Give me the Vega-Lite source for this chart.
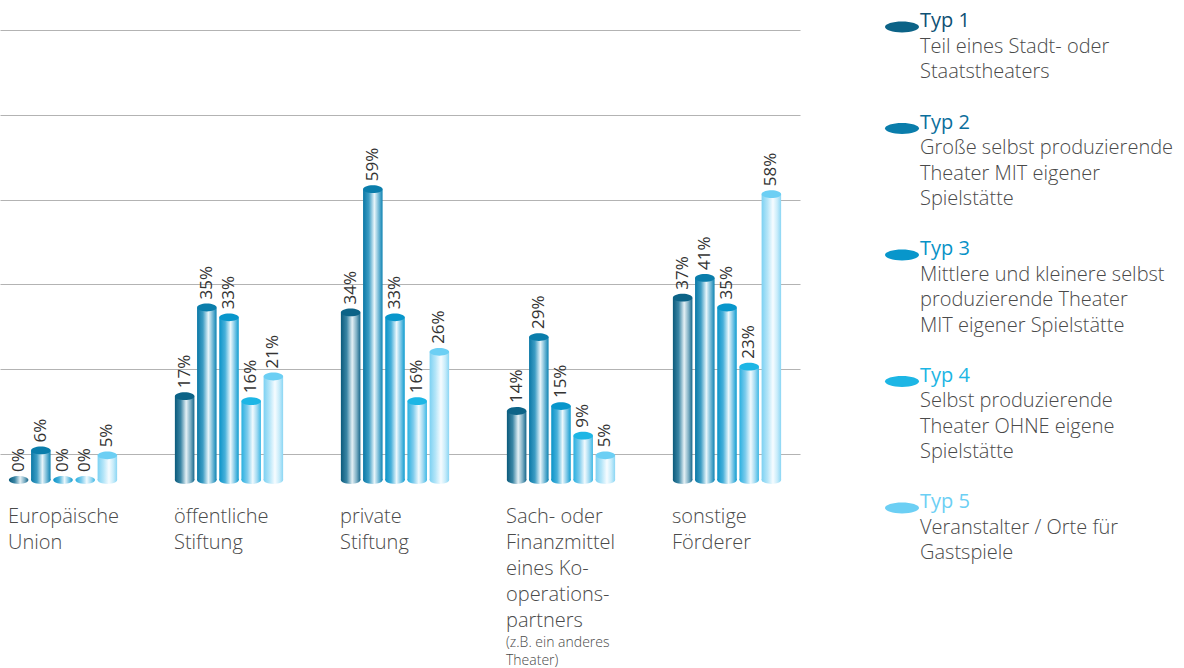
{
  "$schema": "https://vega.github.io/schema/vega-lite/v6.json",
  "width": 800,
  "height": 450,
  "autosize": {"type": "none"},
  "padding": {"left": 0, "top": 30, "right": 384, "bottom": 188},
  "background": "white",
  "config": {"view": {"stroke": null}, "font": "Open Sans", "style": {"guide-label": {"lineHeight": 25.6}}},
  "resolve": {"axis": {"x": "independent"}},
  "datasets": {
    "bars": [
      {"cat": "Europäische Union", "type": "Typ 1", "value": 0},
      {"cat": "Europäische Union", "type": "Typ 2", "value": 0.06},
      {"cat": "Europäische Union", "type": "Typ 3", "value": 0},
      {"cat": "Europäische Union", "type": "Typ 4", "value": 0},
      {"cat": "Europäische Union", "type": "Typ 5", "value": 0.05},
      {"cat": "öffentliche Stiftung", "type": "Typ 1", "value": 0.17},
      {"cat": "öffentliche Stiftung", "type": "Typ 2", "value": 0.35},
      {"cat": "öffentliche Stiftung", "type": "Typ 3", "value": 0.33},
      {"cat": "öffentliche Stiftung", "type": "Typ 4", "value": 0.16},
      {"cat": "öffentliche Stiftung", "type": "Typ 5", "value": 0.21},
      {"cat": "private Stiftung", "type": "Typ 1", "value": 0.34},
      {"cat": "private Stiftung", "type": "Typ 2", "value": 0.59},
      {"cat": "private Stiftung", "type": "Typ 3", "value": 0.33},
      {"cat": "private Stiftung", "type": "Typ 4", "value": 0.16},
      {"cat": "private Stiftung", "type": "Typ 5", "value": 0.26},
      {"cat": "Sach- oder Finanzmittel eines Kooperationspartners", "type": "Typ 1", "value": 0.14},
      {"cat": "Sach- oder Finanzmittel eines Kooperationspartners", "type": "Typ 2", "value": 0.29},
      {"cat": "Sach- oder Finanzmittel eines Kooperationspartners", "type": "Typ 3", "value": 0.15},
      {"cat": "Sach- oder Finanzmittel eines Kooperationspartners", "type": "Typ 4", "value": 0.09},
      {"cat": "Sach- oder Finanzmittel eines Kooperationspartners", "type": "Typ 5", "value": 0.05},
      {"cat": "sonstige Förderer", "type": "Typ 1", "value": 0.37},
      {"cat": "sonstige Förderer", "type": "Typ 2", "value": 0.41},
      {"cat": "sonstige Förderer", "type": "Typ 3", "value": 0.35},
      {"cat": "sonstige Förderer", "type": "Typ 4", "value": 0.23},
      {"cat": "sonstige Förderer", "type": "Typ 5", "value": 0.58}
    ]
  },
  "data": {"name": "bars"},
  "encoding": {
    "x": {
      "field": "cat",
      "type": "nominal",
      "scale": {
        "domain": ["Europäische Union", "öffentliche Stiftung", "private Stiftung", "Sach- oder Finanzmittel eines Kooperationspartners", "sonstige Förderer"],
        "paddingInner": 0.3373,
        "paddingOuter": 0.0783,
        "align": 0.3077
      },
      "axis": null
    },
    "y": {
      "field": "value",
      "type": "quantitative",
      "scale": {"domain": [0, 0.913], "nice": false, "zero": true},
      "axis": {
        "title": null,
        "values": [0.0527, 0.2252, 0.3977, 0.568, 0.7405, 0.913],
        "grid": true,
        "gridColor": "#b3b3b3",
        "gridWidth": 1.2,
        "labels": false,
        "ticks": false,
        "domain": false
      }
    }
  },
  "layer": [
    {
      "transform": [{"filter": "datum.type == 'Typ 1'"}],
      "mark": {"type": "point", "filled": true, "size": 381, "opacity": 1, "strokeWidth": 0,
        "fill": {"gradient": "linear", "x1": 0, "x2": 1, "y1": 0, "y2": 0, "stops": [
          {"offset": 0, "color": "#0b5a7b"}, {"offset": 0.3, "color": "#3b86a5"}, {"offset": 0.58, "color": "#e4f0f5"}, {"offset": 0.8, "color": "#7fb0c5"}, {"offset": 1, "color": "#16668a"}]}},
      "encoding": {
        "x": {
          "field": "cat",
          "type": "nominal",
          "scale": {
            "domain": ["Europäische Union", "öffentliche Stiftung", "private Stiftung", "Sach- oder Finanzmittel eines Kooperationspartners", "sonstige Förderer"],
            "paddingInner": 0.3373,
            "paddingOuter": 0.0783,
            "align": 0.3077
          },
          "axis": {
            "orient": "bottom",
            "title": null,
            "domain": false,
            "ticks": false,
            "grid": false,
            "labelAlign": "left",
            "labelBaseline": "top",
            "labelAngle": 0,
            "labelOffset": -55,
            "labelPadding": 26,
            "labelFont": "Open Sans",
            "labelFontWeight": 300,
            "labelFontSize": 20,
            "labelLineHeight": 26,
            "labelColor": "#4a4a4a",
            "labelLimit": 300,
            "labelOverlap": false,
            "labelBound": false,
            "labelFlush": false,
            "labelExpr": "datum.value == 'Europäische Union' ? ['Europäische', 'Union'] : datum.value == 'öffentliche Stiftung' ? ['öffentliche', 'Stiftung'] : datum.value == 'private Stiftung' ? ['private', 'Stiftung'] : datum.value == 'sonstige Förderer' ? ['sonstige', 'Förderer'] : ['Sach- oder', 'Finanzmittel', 'eines Ko-', 'operations-', 'partners']"
          }
        },
        "xOffset": {"field": "type", "type": "nominal", "scale": {"paddingInner": 0.12, "paddingOuter": 0.04}},
        "y": {"datum": 0, "type": "quantitative"},
        "shape": {
          "field": "type",
          "type": "nominal",
          "scale": {
            "domain": ["Typ 1", "Typ 2", "Typ 3", "Typ 4", "Typ 5"],
            "range": ["M-1,0A1,0.4,0,1,0,1,0A1,0.4,0,1,0,-1,0Z", "M-1,0A1,0.4,0,1,0,1,0A1,0.4,0,1,0,-1,0Z", "M-1,0A1,0.4,0,1,0,1,0A1,0.4,0,1,0,-1,0Z", "M-1,0A1,0.4,0,1,0,1,0A1,0.4,0,1,0,-1,0Z", "M-1,0A1,0.4,0,1,0,1,0A1,0.4,0,1,0,-1,0Z"]
          },
          "legend": {
            "orient": "none",
            "legendX": 885,
            "legendY": -20,
            "padding": 0,
            "title": null,
            "symbolSize": 1156,
            "symbolOpacity": 0,
            "symbolStrokeWidth": 0,
            "labelOffset": 1,
            "labelFont": "Open Sans",
            "labelFontWeight": 300,
            "labelFontSize": 20,
            "labelBaseline": "alphabetic",
            "labelLimit": 400,
            "labelColor": "#4a4a4a",
            "rowPadding": 28.5,
            "labelExpr": "datum.label == 'Typ 1' ? ['', 'Teil eines Stadt- oder', 'Staatstheaters'] : datum.label == 'Typ 2' ? ['', 'Große selbst produzierende', 'Theater MIT eigener', 'Spielstätte'] : datum.label == 'Typ 3' ? ['', 'Mittlere und kleinere selbst', 'produzierende Theater', 'MIT eigener Spielstätte'] : datum.label == 'Typ 4' ? ['', 'Selbst produzierende', 'Theater OHNE eigene', 'Spielstätte'] : ['', 'Veranstalter / Orte für', 'Gastspiele']"
          }
        }
      }
    },
    {
      "transform": [{"filter": "datum.type == 'Typ 2'"}],
      "mark": {"type": "point", "filled": true, "size": 381, "opacity": 1, "strokeWidth": 0, "shape": "M-1,0A1,0.4,0,1,0,1,0A1,0.4,0,1,0,-1,0Z",
        "fill": {"gradient": "linear", "x1": 0, "x2": 1, "y1": 0, "y2": 0, "stops": [
          {"offset": 0, "color": "#0a78a6"}, {"offset": 0.3, "color": "#3d9dc4"}, {"offset": 0.58, "color": "#e8f5fa"}, {"offset": 0.8, "color": "#73b9d6"}, {"offset": 1, "color": "#0e83b2"}]}},
      "encoding": {
        "xOffset": {"field": "type", "type": "nominal"},
        "y": {"datum": 0, "type": "quantitative"}
      }
    },
    {
      "transform": [{"filter": "datum.type == 'Typ 3'"}],
      "mark": {"type": "point", "filled": true, "size": 381, "opacity": 1, "strokeWidth": 0, "shape": "M-1,0A1,0.4,0,1,0,1,0A1,0.4,0,1,0,-1,0Z",
        "fill": {"gradient": "linear", "x1": 0, "x2": 1, "y1": 0, "y2": 0, "stops": [
          {"offset": 0, "color": "#0993c8"}, {"offset": 0.3, "color": "#47b0da"}, {"offset": 0.58, "color": "#ecf8fc"}, {"offset": 0.8, "color": "#7ac6e6"}, {"offset": 1, "color": "#0e9ccf"}]}},
      "encoding": {
        "xOffset": {"field": "type", "type": "nominal"},
        "y": {"datum": 0, "type": "quantitative"}
      }
    },
    {
      "transform": [{"filter": "datum.type == 'Typ 4'"}],
      "mark": {"type": "point", "filled": true, "size": 381, "opacity": 1, "strokeWidth": 0, "shape": "M-1,0A1,0.4,0,1,0,1,0A1,0.4,0,1,0,-1,0Z",
        "fill": {"gradient": "linear", "x1": 0, "x2": 1, "y1": 0, "y2": 0, "stops": [
          {"offset": 0, "color": "#29b0e0"}, {"offset": 0.3, "color": "#7ccbec"}, {"offset": 0.58, "color": "#f1fafe"}, {"offset": 0.8, "color": "#a0d9f1"}, {"offset": 1, "color": "#3cb8e5"}]}},
      "encoding": {
        "xOffset": {"field": "type", "type": "nominal"},
        "y": {"datum": 0, "type": "quantitative"}
      }
    },
    {
      "transform": [{"filter": "datum.type == 'Typ 5'"}],
      "mark": {"type": "point", "filled": true, "size": 381, "opacity": 1, "strokeWidth": 0, "shape": "M-1,0A1,0.4,0,1,0,1,0A1,0.4,0,1,0,-1,0Z",
        "fill": {"gradient": "linear", "x1": 0, "x2": 1, "y1": 0, "y2": 0, "stops": [
          {"offset": 0, "color": "#7cd1f2"}, {"offset": 0.3, "color": "#b4e5f8"}, {"offset": 0.58, "color": "#f6fcff"}, {"offset": 0.8, "color": "#c8ecfa"}, {"offset": 1, "color": "#8ad6f4"}]}},
      "encoding": {
        "xOffset": {"field": "type", "type": "nominal"},
        "y": {"datum": 0, "type": "quantitative"}
      }
    },
    {
      "transform": [{"filter": "datum.type == 'Typ 1'"}],
      "mark": {"type": "bar",
        "color": {"gradient": "linear", "x1": 0, "x2": 1, "y1": 0, "y2": 0, "stops": [
          {"offset": 0, "color": "#0b5a7b"}, {"offset": 0.3, "color": "#3b86a5"}, {"offset": 0.58, "color": "#e4f0f5"}, {"offset": 0.8, "color": "#7fb0c5"}, {"offset": 1, "color": "#16668a"}]}},
      "encoding": {"xOffset": {"field": "type", "type": "nominal"}}
    },
    {
      "transform": [{"filter": "datum.type == 'Typ 2'"}],
      "mark": {"type": "bar",
        "color": {"gradient": "linear", "x1": 0, "x2": 1, "y1": 0, "y2": 0, "stops": [
          {"offset": 0, "color": "#0a78a6"}, {"offset": 0.3, "color": "#3d9dc4"}, {"offset": 0.58, "color": "#e8f5fa"}, {"offset": 0.8, "color": "#73b9d6"}, {"offset": 1, "color": "#0e83b2"}]}},
      "encoding": {"xOffset": {"field": "type", "type": "nominal"}}
    },
    {
      "transform": [{"filter": "datum.type == 'Typ 3'"}],
      "mark": {"type": "bar",
        "color": {"gradient": "linear", "x1": 0, "x2": 1, "y1": 0, "y2": 0, "stops": [
          {"offset": 0, "color": "#0993c8"}, {"offset": 0.3, "color": "#47b0da"}, {"offset": 0.58, "color": "#ecf8fc"}, {"offset": 0.8, "color": "#7ac6e6"}, {"offset": 1, "color": "#0e9ccf"}]}},
      "encoding": {"xOffset": {"field": "type", "type": "nominal"}}
    },
    {
      "transform": [{"filter": "datum.type == 'Typ 4'"}],
      "mark": {"type": "bar",
        "color": {"gradient": "linear", "x1": 0, "x2": 1, "y1": 0, "y2": 0, "stops": [
          {"offset": 0, "color": "#29b0e0"}, {"offset": 0.3, "color": "#7ccbec"}, {"offset": 0.58, "color": "#f1fafe"}, {"offset": 0.8, "color": "#a0d9f1"}, {"offset": 1, "color": "#3cb8e5"}]}},
      "encoding": {"xOffset": {"field": "type", "type": "nominal"}}
    },
    {
      "transform": [{"filter": "datum.type == 'Typ 5'"}],
      "mark": {"type": "bar",
        "color": {"gradient": "linear", "x1": 0, "x2": 1, "y1": 0, "y2": 0, "stops": [
          {"offset": 0, "color": "#7cd1f2"}, {"offset": 0.3, "color": "#b4e5f8"}, {"offset": 0.58, "color": "#f6fcff"}, {"offset": 0.8, "color": "#c8ecfa"}, {"offset": 1, "color": "#8ad6f4"}]}},
      "encoding": {"xOffset": {"field": "type", "type": "nominal"}}
    },
    {
      "transform": [{"filter": "datum.value > 0"}],
      "mark": {"type": "point", "filled": true, "size": 381, "opacity": 1, "strokeWidth": 0, "shape": "M-1,0A1,0.4,0,1,0,1,0A1,0.4,0,1,0,-1,0Z"},
      "encoding": {
        "xOffset": {"field": "type", "type": "nominal"},
        "fill": {
          "field": "type",
          "type": "nominal",
          "scale": {"range": ["#0c6387", "#0a7dab", "#0896cb", "#1db6e5", "#6ccff4"]},
          "legend": {
            "orient": "none",
            "legendX": 885,
            "legendY": -20,
            "padding": 0,
            "title": null,
            "symbolType": "M-1,0A1,0.32,0,1,0,1,0A1,0.32,0,1,0,-1,0Z",
            "symbolSize": 1156,
            "symbolStrokeWidth": 0,
            "symbolOpacity": 1,
            "labelOffset": 1,
            "labelFont": "Open Sans",
            "labelFontWeight": 400,
            "labelFontSize": 20,
            "labelBaseline": "alphabetic",
            "labelLimit": 400,
            "rowPadding": 28.5,
            "labelColor": {"expr": "datum.value == 'Typ 1' ? '#0e5074' : datum.value == 'Typ 2' ? '#0b6e9c' : datum.value == 'Typ 3' ? '#0892c7' : datum.value == 'Typ 4' ? '#1bb5e4' : '#6ccff4'"},
            "labelExpr": "datum.label == 'Typ 1' || datum.label == 'Typ 5' ? [datum.label, '', ''] : [datum.label, '', '', '']"
          }
        }
      }
    },
    {
      "mark": {"type": "text", "angle": 270, "align": "left", "baseline": "middle", "dx": 8, "font": "Open Sans", "fontSize": 17, "fontWeight": 400, "color": "#333333"},
      "encoding": {
        "x": {
          "field": "cat",
          "type": "nominal",
          "scale": {
            "domain": ["Europäische Union", "öffentliche Stiftung", "private Stiftung", "Sach- oder Finanzmittel eines Kooperationspartners", "sonstige Förderer"],
            "paddingInner": 0.3373,
            "paddingOuter": 0.0783,
            "align": 0.3077
          },
          "axis": {
            "orient": "bottom",
            "title": null,
            "domain": false,
            "ticks": false,
            "grid": false,
            "labelAlign": "left",
            "labelBaseline": "top",
            "labelAngle": 0,
            "labelOffset": -55,
            "labelPadding": 155,
            "labelFont": "Open Sans",
            "labelFontWeight": 300,
            "labelFontSize": 14,
            "labelLineHeight": 18,
            "labelColor": "#4a4a4a",
            "labelLimit": 300,
            "labelOverlap": false,
            "labelBound": false,
            "labelFlush": false,
            "labelExpr": "datum.value == 'Sach- oder Finanzmittel eines Kooperationspartners' ? ['(z.B. ein anderes', 'Theater)'] : ''"
          }
        },
        "xOffset": {"field": "type", "type": "nominal"},
        "text": {"field": "value", "type": "quantitative", "format": ".0%"}
      }
    }
  ]
}
